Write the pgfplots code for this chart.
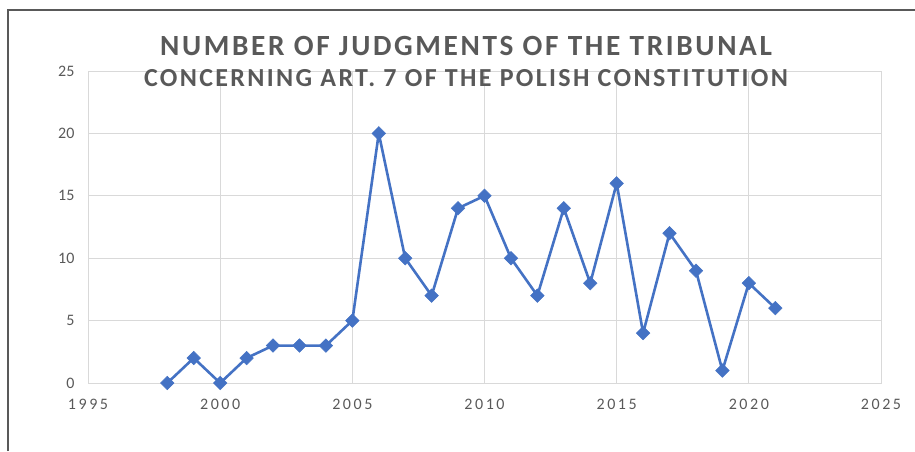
\documentclass[border=0pt]{standalone}
\usepackage{fontspec}
\setmainfont{Carlito}
\usepackage{pgfplots}
\pgfplotsset{compat=1.18}
\definecolor{txtgray}{HTML}{595959}
\definecolor{gridgray}{HTML}{D9D9D9}
\definecolor{lineblue}{HTML}{4472C4}
\newfontfamily\titlefont[LetterSpace=9]{Carlito}
\newfontfamily\tickfont[LetterSpace=16]{Carlito}
\begin{document}
\begin{tikzpicture}[x=1pt,y=1pt]
\useasboundingbox (0,0) rectangle (915,451);
\draw[txtgray, line width=1.5pt] (8,0) -- (8,441) -- (915,441);
\begin{axis}[
  at={(88pt,68pt)}, anchor=south west,
  scale only axis, width=793pt, height=312pt,
  xmin=1995, xmax=2025, ymin=0, ymax=25,
  xtick={1995,2000,...,2025}, ytick={0,5,...,25},
  grid=major, major grid style={gridgray, line width=0.8pt},
  axis line style={gridgray, line width=0.8pt},
  tick style={draw=none},
  /pgf/number format/assume math mode=true,
  /pgf/number format/1000 sep={},
  xticklabel style={font=\tickfont\fontsize{16}{18}\selectfont, text=txtgray, yshift=-13pt},
  yticklabel style={font=\fontsize{16}{18}\selectfont, text=txtgray, xshift=-10pt},
]
\addplot[color=lineblue, line width=2.6pt, mark=square*, mark size=4.8pt, mark options={solid, rotate=45, fill=lineblue, draw=lineblue, line width=0.5pt}]
coordinates {
(1998,0)(1999,2)(2000,0)(2001,2)(2002,3)(2003,3)(2004,3)(2005,5)(2006,20)(2007,10)(2008,7)(2009,14)(2010,15)(2011,10)(2012,7)(2013,14)(2014,8)(2015,16)(2016,4)(2017,12)(2018,9)(2019,1)(2020,8)(2021,6)
};
\end{axis}
\node[text=txtgray, font=\titlefont\bfseries\fontsize{29.3}{32}\selectfont] at (466,405) {NUMBER OF JUDGMENTS OF THE TRIBUNAL};
\node[text=txtgray, font=\titlefont\bfseries\fontsize{26}{30}\selectfont] at (466,373) {CONCERNING ART. 7 OF THE POLISH CONSTITUTION};
\end{tikzpicture}
\end{document}
